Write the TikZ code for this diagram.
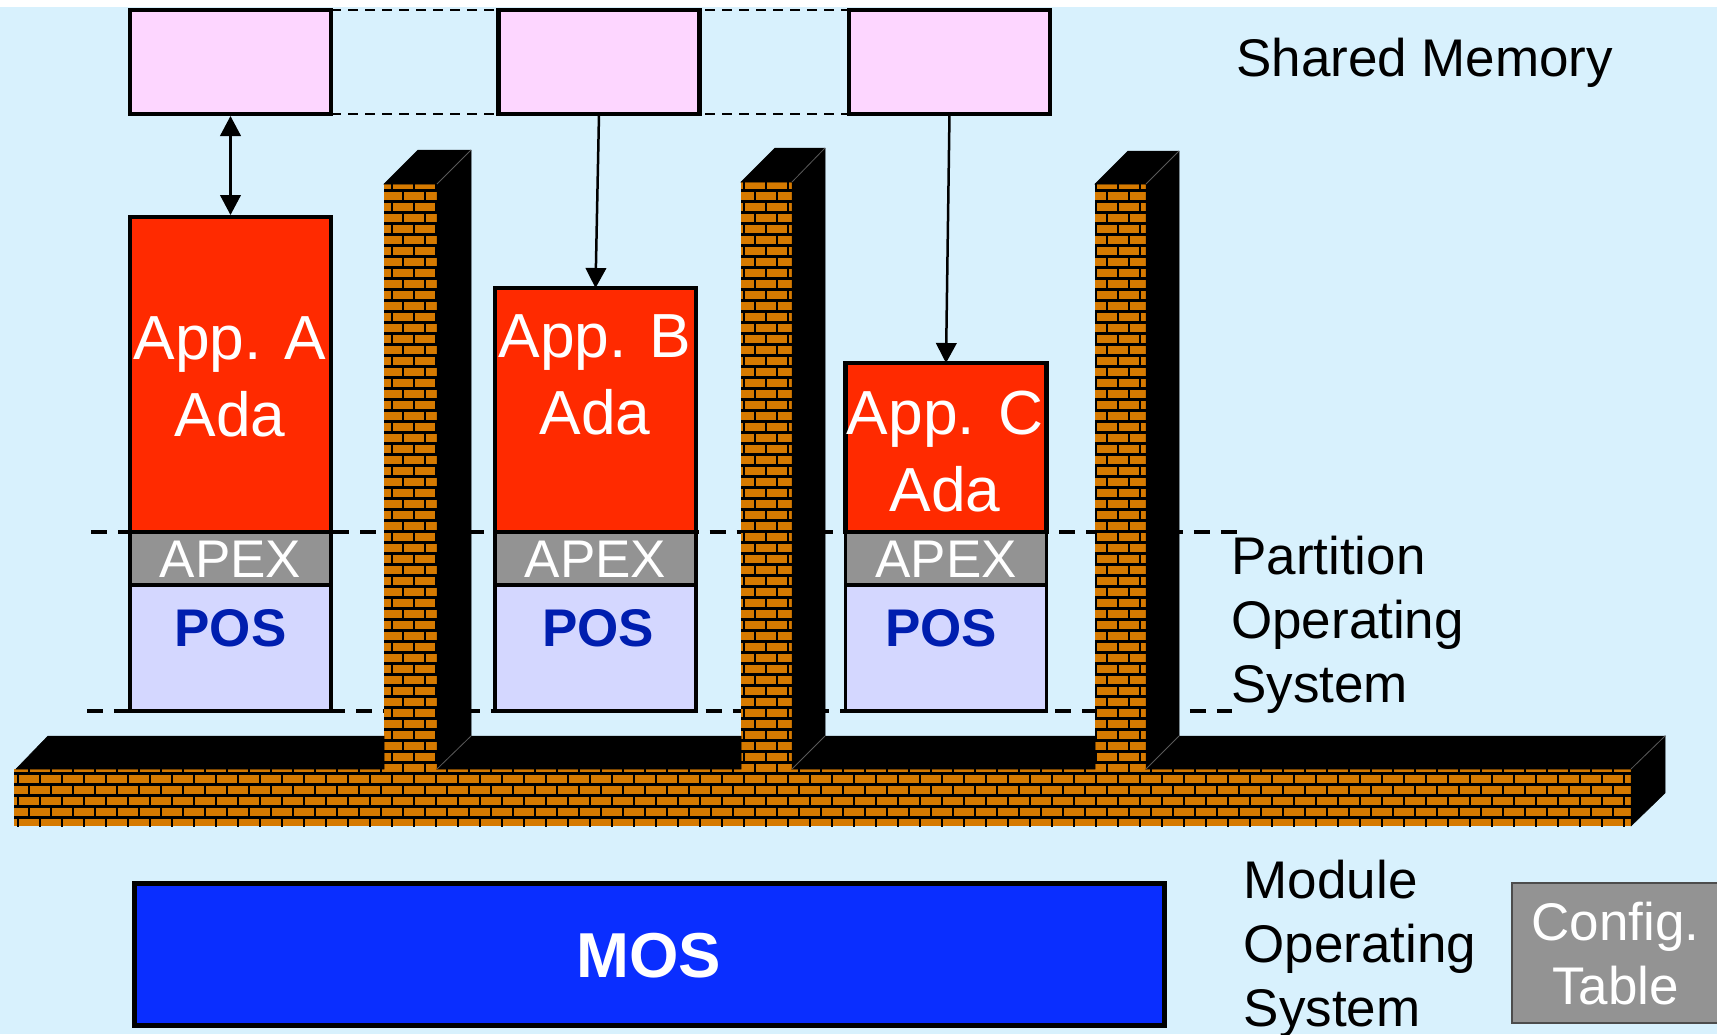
\documentclass[tikz,border=0pt]{standalone}
\usepackage{fontspec}
\setmainfont{Liberation Sans}
\usetikzlibrary{arrows.meta}
\definecolor{skyb}{HTML}{D8F1FD}
\definecolor{pinkb}{HTML}{FDD6FF}
\definecolor{redb}{HTML}{FF2A00}
\definecolor{greyb}{HTML}{939393}
\definecolor{lilac}{HTML}{D4D7FF}
\definecolor{posblue}{HTML}{001EAF}
\definecolor{mosblue}{HTML}{0A2EFF}
\definecolor{brick}{HTML}{D67A00}
\newcommand{\fsz}[2]{\fontsize{#1pt}{#2pt}\selectfont}
\tikzset{
  x=1pt,y=-1pt,
  boxbase/.style={draw=black,inner sep=0pt,outer sep=0pt,line width=4.5pt},
  membox/.style={boxbase,fill=pinkb,minimum width=201pt,minimum height=104pt},
  appbox/.style={boxbase,fill=redb,minimum width=201pt},
  apexbox/.style={draw=black,line width=3.5pt,fill=greyb,inner sep=0pt,outer sep=0pt,minimum width=201pt,minimum height=53pt},
  posbox/.style={draw=black,line width=3.5pt,fill=lilac,inner sep=0pt,outer sep=0pt,minimum width=201pt,minimum height=126pt},
  applabel/.style={text=white,align=center,inner sep=0pt,font=\fsz{62.3}{77}},
  apexlabel/.style={text=white,inner sep=0pt,font=\fsz{53}{60}},
  poslabel/.style={text=posblue,inner sep=0pt,font=\fsz{53}{60}\bfseries},
  sidelabel/.style={text=black,inner sep=0pt,align=left,anchor=north west,font=\fsz{53}{64}},
  conn/.style={draw=black,line width=2.5pt,-{Triangle[length=20pt,width=20.5pt]}},
  biconn/.style={draw=black,line width=2.5pt,{Triangle[length=20pt,width=20.5pt]}-{Triangle[length=20pt,width=20.5pt]}},
  linkdash/.style={draw=black,line width=2.6pt,dash pattern=on 10pt off 7pt},
  leveldash/.style={draw=black,line width=3.5pt,dash pattern=on 16pt off 10.9pt},
  shade3d/.style={fill=black,draw=black,line width=.5pt},
  edge3d/.style={draw=black!65,line width=.8pt},
}
\newcommand{\brickwall}[5]{% x1 y1 x2 y2 phase
  \begin{scope}
    \clip (#1,#2) rectangle (#3,#4);
    \fill[brick] (#1,#2) rectangle (#3,#4);
    \pgfmathtruncatemacro{\rowa}{floor((773.4-#4)/11)}
    \pgfmathtruncatemacro{\rowb}{ceil((773.4-#2)/11)}
    \foreach \r in {\rowa,...,\rowb}{
      \pgfmathsetmacro{\ya}{773.4-11*\r}
      \pgfmathsetmacro{\yb}{\ya+11}
      \draw[black,line width=2.3pt] (#1,\ya) -- (#3,\ya);
      \pgfmathsetmacro{\ph}{#5+(iseven(\r)?0:11)}
      \pgfmathtruncatemacro{\ka}{floor((#1-\ph)/22)}
      \pgfmathtruncatemacro{\kb}{ceil((#3-\ph)/22)}
      \foreach \k in {\ka,...,\kb}{
        \pgfmathsetmacro{\xa}{\ph+22*\k}
        \draw[black,line width=2.3pt] (\xa,\ya) -- (\xa,\yb);
      }
    }
  \end{scope}
}
\begin{document}
\begin{tikzpicture}
\useasboundingbox (0,0) rectangle (1717,1034);
\fill[white] (0,0) rectangle (1717,1034);
\fill[skyb] (0,7) rectangle (1717,1034);

% shared memory
\draw[linkdash] (331,10) -- (1050,10);
\draw[linkdash] (331,114) -- (1050,114);
\node[membox] (mema) at (230.5,62) {};
\node[membox] (memb) at (599,62) {};
\node[membox] (memc) at (949.5,62) {};
\node[text=black,inner sep=0pt,anchor=base west,font=\fsz{53}{60}] (shared) at (1236,76) {Shared Memory};

% partitions
\node[appbox,minimum height=315pt] (appa) at (230.5,374.5) {};
\node[apexbox] (apexa) at (230.5,558.5) {};
\node[posbox] (posa) at (230.5,648) {};
\node[appbox,minimum height=244pt] (appb) at (595.5,410) {};
\node[apexbox] (apexb) at (595.5,558.5) {};
\node[posbox] (posb) at (595.5,648) {};
\node[appbox,minimum height=169pt] (appc) at (946,447.5) {};
\node[apexbox] (apexc) at (946,558.5) {};
\node[posbox] (posc) at (946,648) {};

\node[applabel,anchor=base] (la) at (230,436) {App. A\\Ada};
\node[applabel,anchor=base] (lb) at (595,434) {App. B\\Ada};
\node[applabel,anchor=base] (lc) at (945,511) {App. C\\Ada};

\node[apexlabel,anchor=base] (xa) at (230.5,577) {APEX};
\node[apexlabel,anchor=base] (xb) at (595.5,577) {APEX};
\node[apexlabel,anchor=base] (xc) at (946,577) {APEX};
\node[poslabel,anchor=base] (pa) at (230.5,646) {POS};
\node[poslabel,anchor=base] (pb) at (598,646) {POS};
\node[poslabel,anchor=base] (pc) at (941,646) {POS};

% level lines
\draw[leveldash] (91,532) -- (1237,532);
\draw[leveldash] (87,711) -- (1232,711);

% arrows
\draw[biconn,shorten <=2pt,shorten >=2pt] (mema.south) -- (appa.north);
\draw[conn] (memb.south) -- (appb.north);
\draw[conn] (memc.south) -- (appc.north);

% walls
\brickwall{14}{769}{1631}{826}{18.3}
\brickwall{384}{184}{437}{770}{18.3}
\brickwall{741}{182}{792}{770}{18.3}
\brickwall{1095}{184}{1146}{770}{18.3}

\fill[shade3d] (16,769) -- (48,736) -- (384,736) -- (384,769) -- cycle;
\fill[shade3d] (437,769) -- (471,736) -- (741,736) -- (741,769) -- cycle;
\fill[shade3d] (792,769) -- (825,736) -- (1095,736) -- (1095,769) -- cycle;
\fill[shade3d] (1146,769) -- (1179,736) -- (1665,736) -- (1631,769) -- cycle;
\fill[shade3d] (1631,769) -- (1665,736) -- (1665,793) -- (1631,826) -- cycle;

\fill[shade3d] (384,184) -- (418,150) -- (471,150) -- (471,736) -- (437,769) -- (437,184) -- cycle;
\fill[shade3d] (741,182) -- (775,148) -- (825,148) -- (825,736) -- (792,769) -- (792,182) -- cycle;
\fill[shade3d] (1095,184) -- (1128,151) -- (1179,151) -- (1179,736) -- (1146,769) -- (1146,184) -- cycle;

\draw[edge3d] (437,184) -- (471,150);
\draw[edge3d] (437,769) -- (471,736);
\draw[edge3d] (792,182) -- (825,148);
\draw[edge3d] (792,769) -- (825,736);
\draw[edge3d] (1146,184) -- (1179,151);
\draw[edge3d] (1146,769) -- (1179,736);
\draw[edge3d] (1631,769) -- (1665,736);

\node[sidelabel] (pos) at (1231,535.5) {Partition\\Operating\\System};

% MOS
\node[draw=black,line width=5pt,fill=mosblue,inner sep=0pt,outer sep=0pt,minimum width=1030pt,minimum height=142pt] (mos) at (649.5,954.5) {};
\node[text=white,inner sep=0pt,anchor=base,font=\fsz{63.5}{70}\bfseries] (mostext) at (649,977) {MOS};
\node[sidelabel] (modos) at (1243.5,859.5) {Module\\Operating\\System};

% config
\node[draw=black!70,line width=1.5pt,fill=greyb,inner sep=0pt,outer sep=0pt,minimum width=220pt,minimum height=140pt,anchor=north west] (cfg) at (1512,883) {};
\node[text=white,inner sep=0pt,align=center,font=\fsz{53}{64},anchor=north] (cfgtext) at (1615.5,901.5) {Config.\\Table};
\end{tikzpicture}
\end{document}
